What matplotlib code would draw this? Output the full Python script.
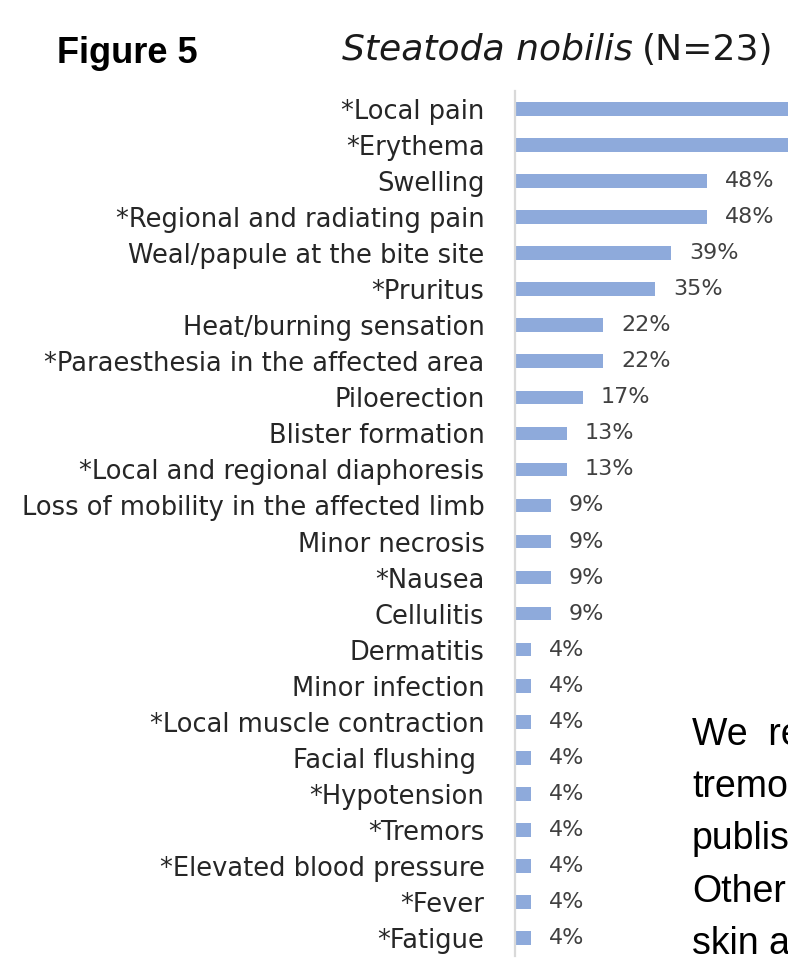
import matplotlib
matplotlib.use('Agg')
import matplotlib.pyplot as plt

symptoms = ['*Local pain', '*Erythema', 'Swelling', '*Regional and radiating pain',
            'Weal/papule at the bite site', '*Pruritus', 'Heat/burning sensation',
            '*Paraesthesia in the affected area', 'Piloerection', 'Blister formation',
            '*Local and regional diaphoresis', 'Loss of mobility in the affected limb',
            'Minor necrosis', '*Nausea', 'Cellulitis', 'Dermatitis', 'Minor infection',
            '*Local muscle contraction', 'Facial flushing ', '*Hypotension', '*Tremors',
            '*Elevated blood pressure', '*Fever', '*Fatigue']
percent = [100, 87, 48, 48, 39, 35, 22, 22, 17, 13, 13, 9, 9, 9, 9,
           4, 4, 4, 4, 4, 4, 4, 4, 4]

side_text = ['We  re', 'tremo', 'publis', 'Other', 'skin a']

W, H = 788, 966
fig = plt.figure(figsize=(W / 100, H / 100), dpi=100)

ax = fig.add_axes([515 / W, 10 / H, 273 / W, 865 / H])
rows = range(len(symptoms))
ax.barh(rows, percent, height=0.38, color='#8eaadb')
ax.set_xlim(0, 68.25)
ax.set_ylim(len(symptoms) - 0.5, -0.5)

ax.set_yticks(list(rows))
ax.set_yticklabels(symptoms, fontsize=18.5, family='DejaVu Sans', color='#262626')
ax.tick_params(axis='y', length=0, pad=22)
ax.set_xticks([])
for s in ['top', 'right', 'bottom']:
    ax.spines[s].set_visible(False)
ax.spines['left'].set_color('#d9d9d9')
ax.spines['left'].set_linewidth(1.6)

for i, v in enumerate(percent):
    ax.annotate(f'{v}%', xy=(v, i), xytext=(13, 0), textcoords='offset points',
                va='center', ha='left', fontsize=16, color='#404040',
                family='DejaVu Sans')

fig.text(57 / W, 1 - 63 / H, 'Figure 5', fontsize=26, fontweight='bold',
         family='Liberation Sans', va='baseline', ha='left')

t1 = fig.text(342 / W, 1 - 60 / H, 'Steatoda nobilis', fontsize=26,
              style='italic', family='DejaVu Sans', va='baseline', ha='left',
              color='#1a1a1a')
fig.canvas.draw()
bb = t1.get_window_extent(renderer=fig.canvas.get_renderer())
fig.text((bb.x1 + 9) / W, 1 - 60 / H, '(N=23)', fontsize=26,
         family='DejaVu Sans', va='baseline', ha='left', color='#1a1a1a')

for k, line in enumerate(side_text):
    fig.text(692 / W, 1 - (745 + 52.2 * k) / H, line, fontsize=27,
             family='Liberation Sans', va='baseline', ha='left')

fig.savefig('out.png', dpi=100)
